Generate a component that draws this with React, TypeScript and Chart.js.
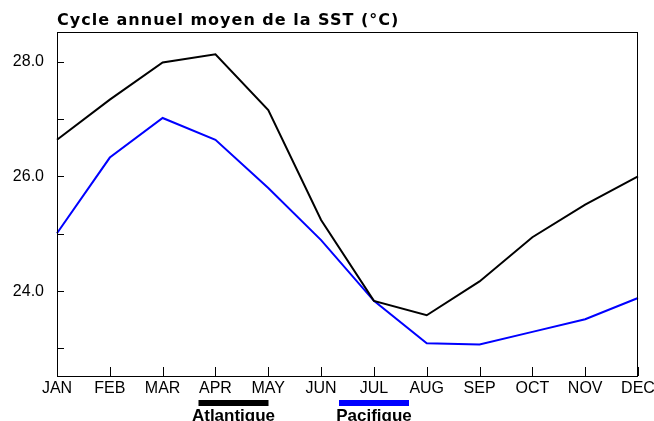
import React, { useEffect, useRef } from "react";
import { Chart, registerables } from "chart.js";
Chart.register(...registerables);

const months = ["JAN", "FEB", "MAR", "APR", "MAY", "JUN", "JUL", "AUG", "SEP", "OCT", "NOV", "DEC"];
const atlantique = [26.64, 27.34, 27.99, 28.13, 27.16, 25.24, 23.83, 23.58, 24.17, 24.94, 25.51, 26.0];
const pacifique = [25.01, 26.33, 27.02, 26.64, 25.8, 24.89, 23.83, 23.09, 23.07, 23.29, 23.51, 23.88];
const yTicks = [23, 24, 25, 26, 27, 28];
const yMin = 22.52;
const yMax = 28.52;
const title = "Cycle annuel moyen de la SST (°C)";
const seriesNames = ["Atlantique", "Pacifique"];
const seriesColors = ["#000000", "#0000ff"];

const decor = {
  id: "decor",
  afterDraw(chart: any) {
    const { ctx, chartArea: a, scales } = chart;
    const x = scales.x;
    const y = scales.y;
    ctx.save();
    ctx.strokeStyle = "#000";
    ctx.lineWidth = 1;
    ctx.strokeRect(Math.round(a.left) + 0.5, Math.round(a.top) + 0.5, Math.round(a.right - a.left) - 1, Math.round(a.bottom - a.top));
    ctx.beginPath();
    for (const v of yTicks) {
      const py = Math.round(y.getPixelForValue(v)) + 0.5;
      ctx.moveTo(a.left, py);
      ctx.lineTo(a.left + 7, py);
    }
    months.forEach((_, i) => {
      const px = Math.round(x.getPixelForValue(i)) + 0.5;
      ctx.moveTo(px, a.bottom);
      ctx.lineTo(px, a.bottom - 9);
    });
    ctx.stroke();
    // title
    ctx.fillStyle = "#000";
    ctx.font = "bold 16px 'DejaVu Sans'";
    try { (ctx as any).letterSpacing = "1px"; } catch (e) {}
    ctx.textAlign = "left";
    ctx.textBaseline = "alphabetic";
    ctx.fillText(title, 57, 25);
    try { (ctx as any).letterSpacing = "0px"; } catch (e) {}
    // legend
    const centers = [233.5, 374];
    ctx.font = "bold 17px 'Liberation Sans'";
    ctx.textAlign = "center";
    seriesNames.forEach((n, i) => {
      ctx.fillStyle = seriesColors[i];
      ctx.fillRect(centers[i] - 35, 400, 70, 6);
      ctx.fillStyle = "#000";
      ctx.fillText(n, centers[i], 420.5);
    });
    ctx.restore();
  },
};

export default function App() {
  const ref = useRef<HTMLCanvasElement>(null);
  useEffect(() => {
    const chart = new Chart(ref.current!, {
      type: "line",
      data: {
        labels: months,
        datasets: [
          { label: seriesNames[0], data: atlantique, borderColor: seriesColors[0], borderWidth: 2, pointRadius: 0, tension: 0, fill: false },
          { label: seriesNames[1], data: pacifique, borderColor: seriesColors[1], borderWidth: 2, pointRadius: 0, tension: 0, fill: false },
        ],
      },
      options: {
        responsive: false,
        animation: false,
        layout: { padding: { top: 32, right: 16, left: 0, bottom: 0 } },
        plugins: { legend: { display: false }, title: { display: false }, tooltip: { enabled: false } },
        scales: {
          x: {
            offset: false,
            grid: { display: false, drawTicks: false },
            border: { display: false },
            ticks: { color: "#000", font: { family: "'Liberation Sans'", size: 16 }, padding: 3, maxRotation: 0, autoSkip: false },
            afterFit: (s: any) => {
              s.height = 45;
              s.paddingLeft = 0;
              s.paddingRight = 0;
            },
          },
          y: {
            min: yMin,
            max: yMax,
            grid: { display: false, drawTicks: false },
            border: { display: false },
            afterBuildTicks: (s: any) => {
              s.ticks = yTicks.map((v) => ({ value: v }));
            },
            ticks: {
              color: "#000",
              font: { family: "'Liberation Sans'", size: 16 },
              padding: 13,
              callback: (v: any) => (Number(v) % 2 === 0 ? Number(v).toFixed(1) : ""),
            },
            afterFit: (s: any) => {
              s.width = 57;
              s.paddingTop = 0;
              s.paddingBottom = 0;
            },
          },
        },
      },
      plugins: [decor],
    });
    return () => chart.destroy();
  }, []);
  return (
    <div style={{ position: "absolute", left: 0, top: 0, width: 654, height: 421, background: "#fff" }}>
      <canvas ref={ref} width={654} height={421} />
    </div>
  );
}
